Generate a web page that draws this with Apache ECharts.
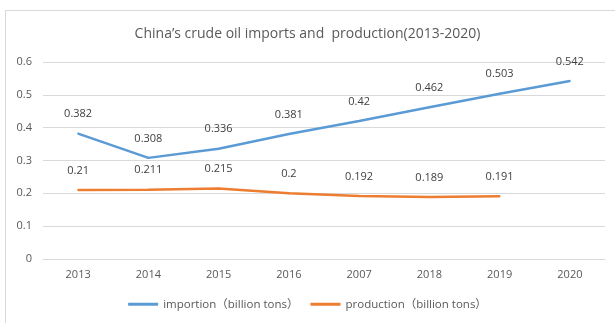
<!DOCTYPE html>
<html><head><meta charset="utf-8">
<script src="https://cdn.jsdelivr.net/npm/echarts@6/dist/echarts.min.js"></script>
<style>html,body{margin:0;padding:0;background:#fff}#c{width:615px;height:323px}</style>
</head><body><div id="c"></div>
<script>
const categories = ['2013','2014','2015','2016','2007','2018','2019','2020'];
const importion = [0.382,0.308,0.336,0.381,0.42,0.462,0.503,0.542];
const production = [0.21,0.211,0.215,0.2,0.192,0.189,0.191,null];
const yTicks = [0,0.1,0.2,0.3,0.4,0.5,0.6];
const font = "'Open Sans','Noto Sans','Noto Sans CJK SC',sans-serif";
const chart = echarts.init(document.getElementById('c'));
chart.setOption({
  animation:false,
  graphic:[{type:'rect',shape:{x:5.5,y:10.5,width:620,height:330},style:{fill:'none',stroke:'#d9d9d9',lineWidth:1}}],
  title:{text:"China\u2019s crude oil imports and  production(2013-2020)",left:'center',top:22,textStyle:{fontFamily:font,fontSize:14,fontWeight:'normal',color:'#595959'}},
  legend:{bottom:8,left:'center',itemWidth:30,itemHeight:3,itemGap:12,icon:'rect',textStyle:{fontFamily:font,fontSize:11.5,color:'#595959'},
    data:['importion\uff08billion tons\uff09','production\uff08billion tons\uff09']},
  grid:{left:43,right:10,top:62,bottom:64},
  xAxis:{type:'category',data:categories,boundaryGap:true,axisLine:{lineStyle:{color:'#d9d9d9'}},axisTick:{show:false},
    axisLabel:{fontFamily:font,fontSize:11,color:'#595959',margin:10}},
  yAxis:{type:'value',min:0,max:0.6,interval:0.1,axisLine:{show:false},axisTick:{show:false},
    splitLine:{lineStyle:{color:'#d9d9d9'}},
    axisLabel:{fontFamily:font,fontSize:11,color:'#595959',margin:11,formatter:v=>{const t=yTicks.find(x=>Math.abs(x-v)<1e-9);return String(t===undefined?v:t);}}},
  series:[
    {name:'importion\uff08billion tons\uff09',type:'line',data:importion,symbol:'circle',symbolSize:2,showSymbol:true,lineStyle:{width:2.5,color:'#5B9BD5'},itemStyle:{color:'#5B9BD5'},
      label:{show:true,position:'top',distance:13,fontFamily:font,fontSize:11,color:'#404040'}},
    {name:'production\uff08billion tons\uff09',type:'line',data:production,symbol:'circle',symbolSize:2,showSymbol:true,lineStyle:{width:2.5,color:'#ED7D31'},itemStyle:{color:'#ED7D31'},
      label:{show:true,position:'top',distance:13,fontFamily:font,fontSize:11,color:'#404040'}}
  ]
});
</script></body></html>
